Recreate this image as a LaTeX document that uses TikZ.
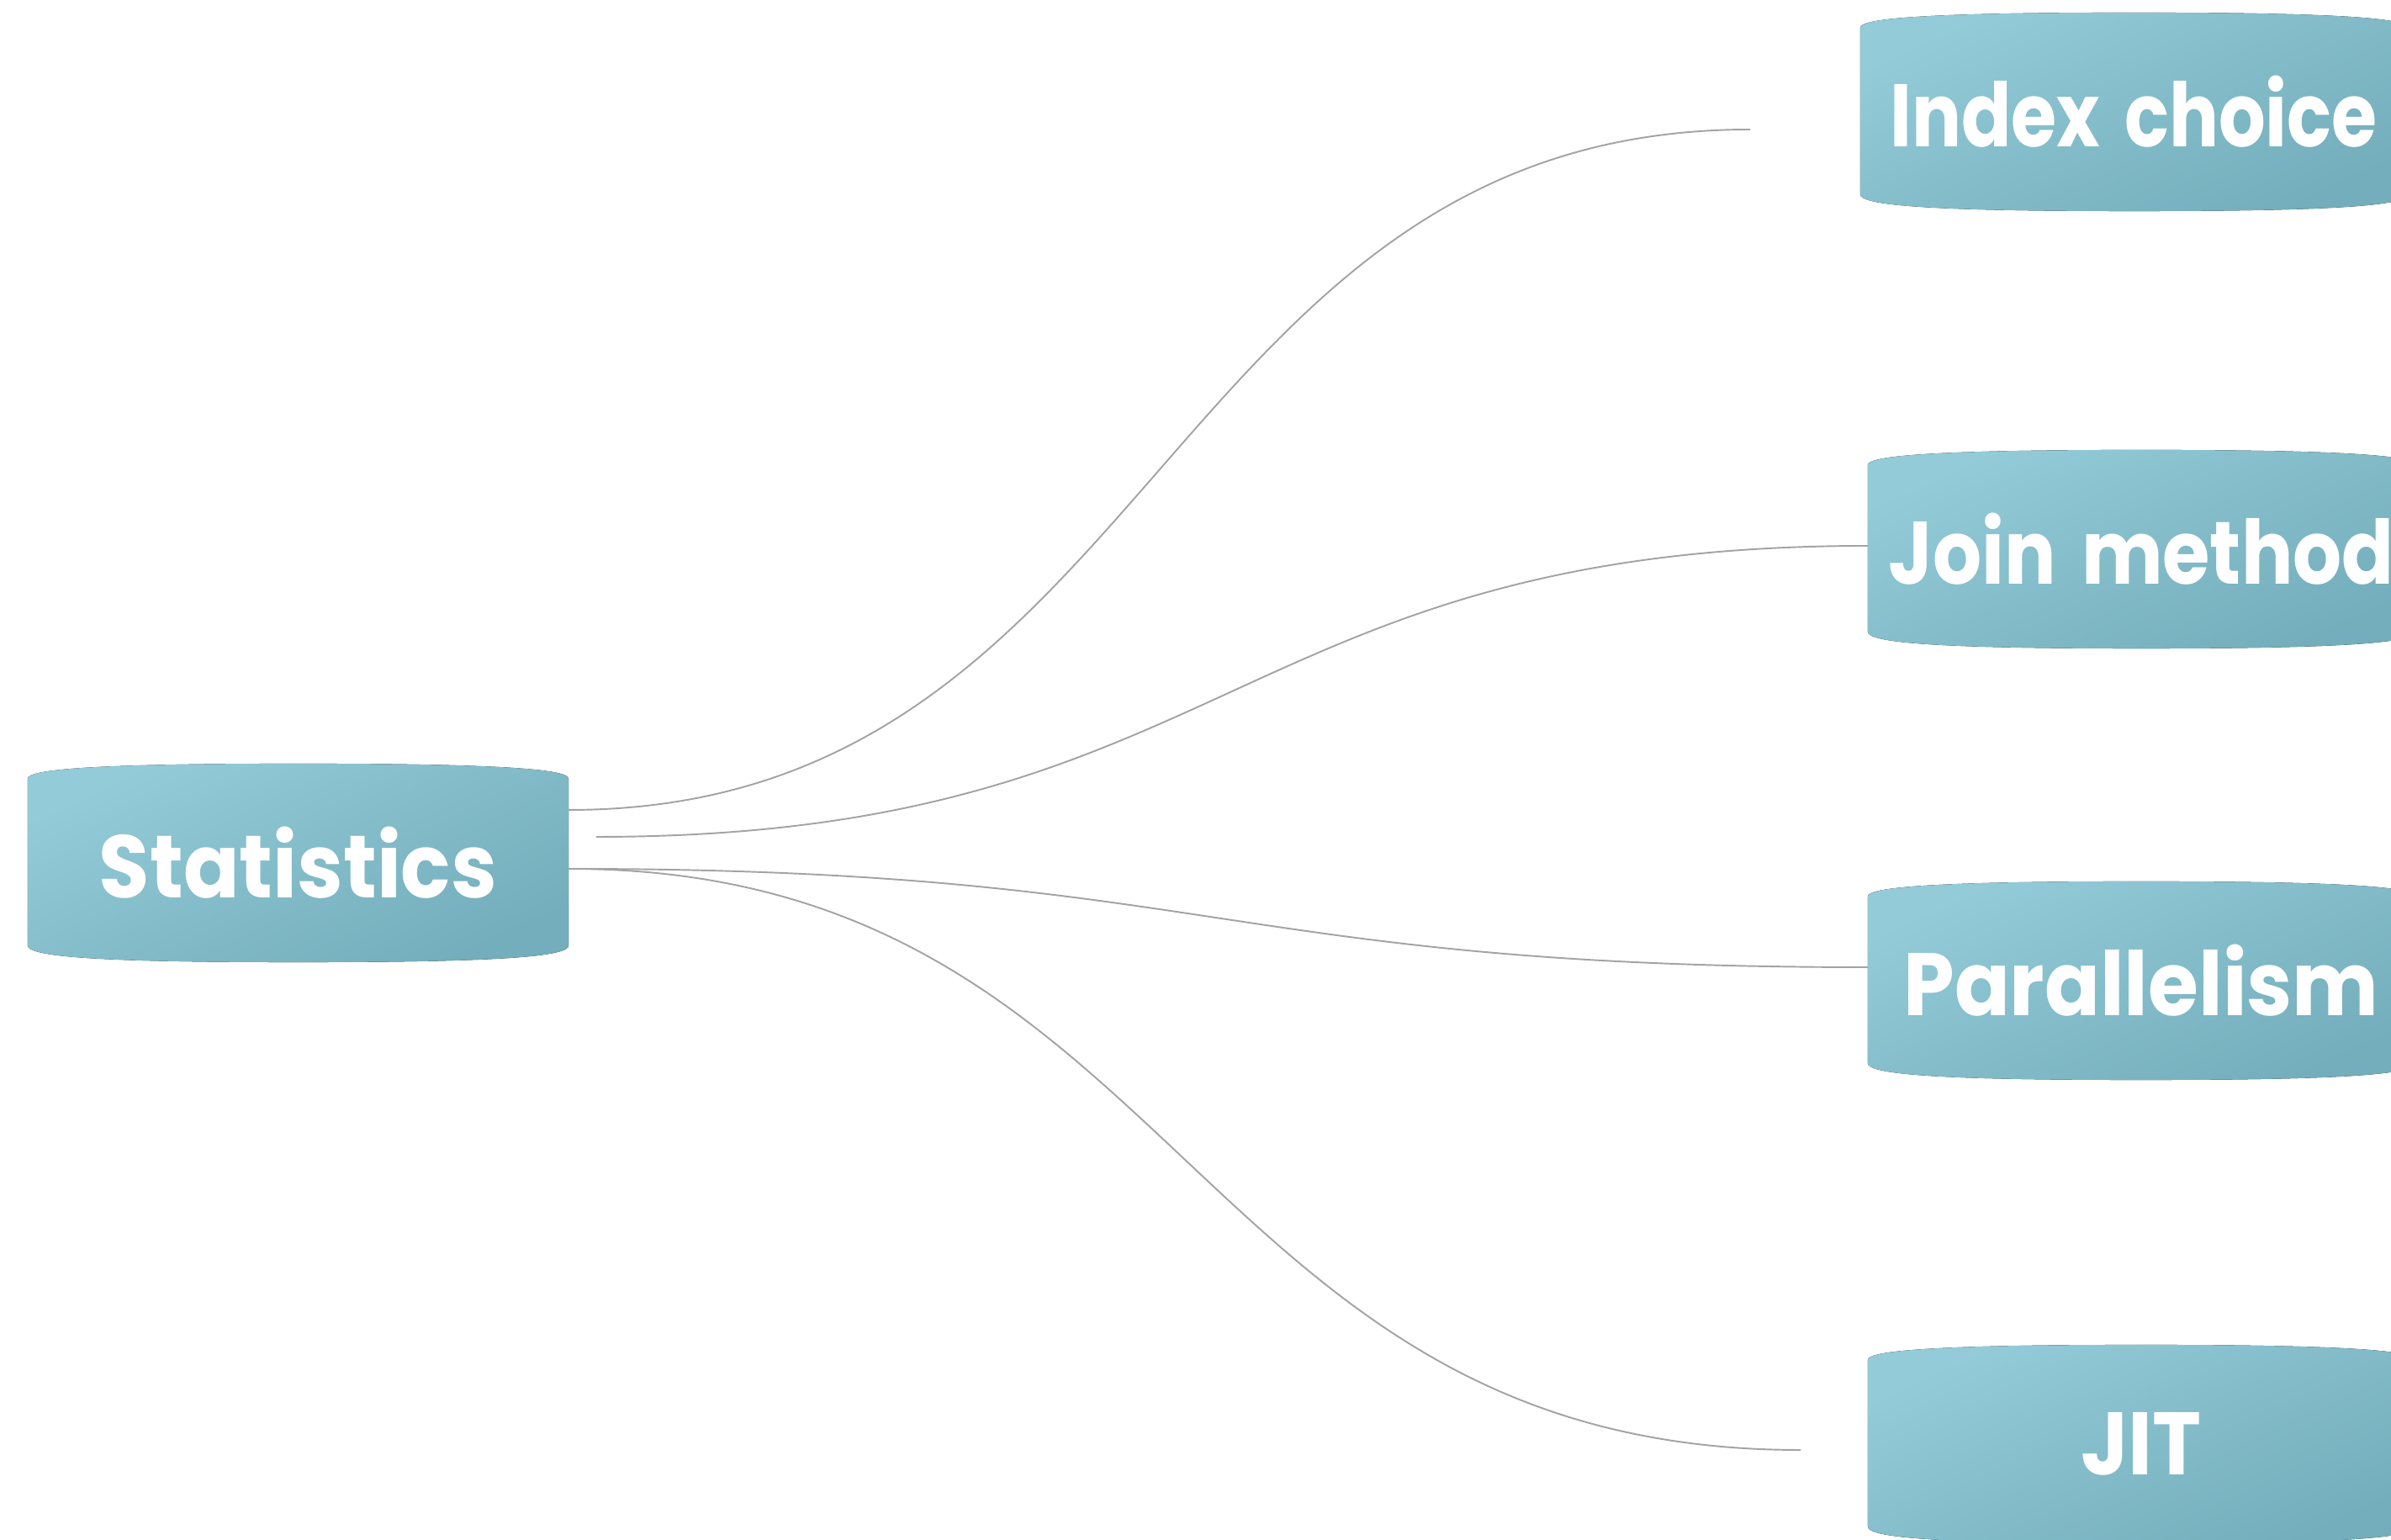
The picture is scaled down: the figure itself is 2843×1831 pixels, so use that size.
\documentclass[tikz,border=0pt]{standalone}
\usepackage{graphicx}
\usepackage{fontspec}
\newfontfamily\boxfont{Poppins}
\usetikzlibrary{calc,backgrounds}
\definecolor{boxlight}{HTML}{93CBD8}
\definecolor{boxdark}{HTML}{74ADBB}
\definecolor{linkgray}{HTML}{A3A3A3}
\newcommand\narrow[2][0.93]{\scalebox{#1}[1]{#2}}
\tikzset{
  topic/.style={draw=none, inner sep=0pt, outer sep=0pt, text width=6.5cm, align=center,
    minimum height=2.36cm,
    text=white, font=\boxfont\bfseries\fontsize{30}{36}\selectfont},
  boxshade/.style={top color=boxlight, bottom color=boxdark, shading angle=25},
  link/.style={draw=linkgray, line width=0.55pt}
}
\newcommand\barrelbg[1]{%
  \fill[boxshade] ($(#1.north west)+(0,-18)$) -- ($(#1.south west)+(0,20)$)
    .. controls ($(#1.south west)+(0,6)$) and ($(#1.south)+(-230,0)$) .. (#1.south)
    .. controls ($(#1.south)+(230,0)$) and ($(#1.south east)+(0,6)$) .. ($(#1.south east)+(0,20)$)
    -- ($(#1.north east)+(0,-18)$)
    .. controls ($(#1.north east)+(0,-6)$) and ($(#1.north)+(230,0)$) .. (#1.north)
    .. controls ($(#1.north)+(-230,0)$) and ($(#1.north west)+(0,-6)$) .. cycle;}
\begin{document}
\begin{tikzpicture}[x=0.01cm,y=0.01cm]
\useasboundingbox (0,0) rectangle (2843,1831);
\clip (0,0) rectangle (2843,1831);
\node[topic, text width=6.43cm] (stat) at (354.5,805) {\narrow{Statistics}};
\node[topic] (idx) at (2537,1698) {\narrow[0.83]{Index choice}};
\node[topic] (join) at (2546,1178) {\narrow[0.865]{Join method}};
\node[topic] (par) at (2546,665) {\narrow[0.92]{Parallelism}};
\node[topic] (jit) at (2546,114) {\narrow{JIT}};
\begin{scope}[on background layer]
  \barrelbg{stat}
  \barrelbg{idx}
  \barrelbg{join}
  \barrelbg{par}
  \barrelbg{jit}
\end{scope}
\coordinate (e1) at (2081,1677);
\coordinate (s2) at (709,836);
\coordinate (e4) at (2141,107);
\draw[link] ($(stat.east)+(0,63)$) .. controls +(700,0) and +(-700,0) .. (e1);
\draw[link] (s2) .. controls +(756,0) and +(-756,0) .. ($(join.west)+(0,4)$);
\draw[link] ($(stat.east)+(0,-7)$) .. controls +(770,0) and +(-770,0) .. ($(par.west)+(0,16)$);
\draw[link] ($(stat.east)+(0,-7)$) .. controls +(730,0) and +(-730,0) .. (e4);
\end{tikzpicture}
\end{document}
